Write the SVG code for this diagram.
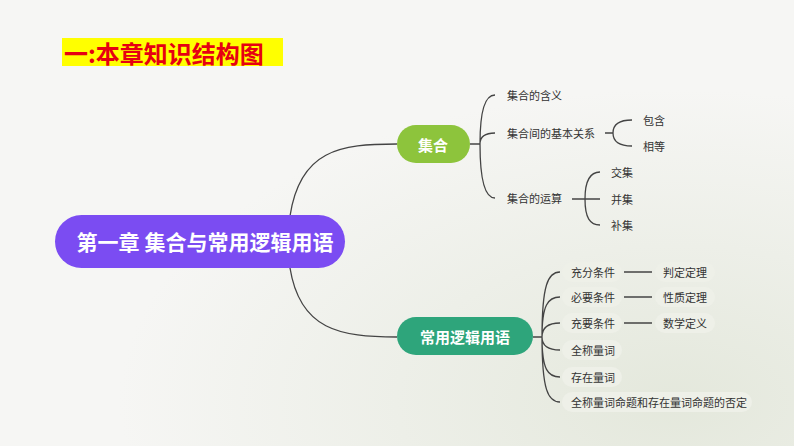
<svg xmlns="http://www.w3.org/2000/svg" width="794" height="446" viewBox="0 0 794 446">
<defs>
<radialGradient id="bg" cx="0.85" cy="0.9" r="0.7"><stop offset="0" stop-color="#e4e8dc"/><stop offset="1" stop-color="#f6f6f4"/></radialGradient>
<style>
text{font-family:"Noto Sans CJK SC","Noto Sans",sans-serif}
.t{font-size:11px;fill:#333;dominant-baseline:central}
.w{font-weight:bold;fill:#fff;dominant-baseline:central;text-anchor:middle}
.l{fill:none;stroke:#444;stroke-width:1.3}
.p{fill:#eef0e8}
</style>
</defs>
<rect width="794" height="446" fill="url(#bg)"/>
<rect x="62" y="38" width="221" height="28" fill="#ffff00"/>
<text x="64" y="52" font-size="24" font-weight="bold" fill="#e60012" dominant-baseline="central">一:本章知识结构图</text>
<g id="connectors">
<path class="l" d="M290 216 C300 150 340 144 397 144"/>
<path class="l" d="M290 268 C300 330 340 337 397 337"/>
<path class="l" d="M470 144 H480 M480 144 C480 110 485 95 495 95 M480 144 C480 136 485 133 495 133 M480 144 C480 180 485 198 495 198"/>
<path class="l" d="M605 133 H613 C613 125 618 120 632 120 M613 133 C613 141 618 146 632 146"/>
<path class="l" d="M572 199 H600 M585 199 C585 180 590 172 600 172 M585 199 C585 218 590 225 600 225"/>
<path class="l" d="M533 337 H542 M542 337 C542 285 548 272 560 272 M542 337 C542 305 548 297 560 297 M542 337 C542 328 548 323 560 323 M542 337 C542 346 548 350 560 350 M542 337 C542 370 548 377 560 377 M542 337 C542 390 548 402 560 402"/>
<path class="l" d="M624 272 H652 M624 297 H652 M624 323 H652"/>
</g>
<g id="main"><rect x="55" y="215" width="290" height="53" rx="26.5" fill="#7b4cf2"/><text class="w" x="205" y="241" font-size="21">第一章 集合与常用逻辑用语</text></g>
<g id="jihe"><rect x="397" y="125" width="73" height="38" rx="19" fill="#8dc43c"/><text class="w" x="433" y="144" font-size="15">集合</text></g>
<g id="luoji"><rect x="397" y="317" width="136" height="38" rx="19" fill="#2ea57b"/><text class="w" x="465" y="336" font-size="15">常用逻辑用语</text></g>
<g id="a1"><text class="t" x="507" y="95">集合的含义</text></g>
<g id="a2"><text class="t" x="507" y="133">集合间的基本关系</text></g>
<g id="a3"><text class="t" x="507" y="198">集合的运算</text></g>
<g id="b1"><text class="t" x="643" y="120">包含</text></g>
<g id="b2"><text class="t" x="643" y="146">相等</text></g>
<g id="c1"><text class="t" x="611" y="172">交集</text></g>
<g id="c2"><text class="t" x="611" y="199">并集</text></g>
<g id="c3"><text class="t" x="611" y="225">补集</text></g>
<g id="d1"><rect class="p" x="562" y="262" width="60" height="20" rx="10"/><text class="t" x="571" y="272">充分条件</text></g>
<g id="d2"><rect class="p" x="562" y="287" width="60" height="20" rx="10"/><text class="t" x="571" y="297">必要条件</text></g>
<g id="d3"><rect class="p" x="562" y="313" width="60" height="20" rx="10"/><text class="t" x="571" y="323">充要条件</text></g>
<g id="d4"><rect class="p" x="562" y="340" width="60" height="20" rx="10"/><text class="t" x="571" y="350">全称量词</text></g>
<g id="d5"><rect class="p" x="562" y="367" width="60" height="20" rx="10"/><text class="t" x="571" y="377">存在量词</text></g>
<g id="d6"><rect class="p" x="562" y="392" width="190" height="20" rx="10"/><text class="t" x="571" y="402">全称量词命题和存在量词命题的否定</text></g>
<g id="e1"><rect class="p" x="655" y="262" width="60" height="20" rx="10"/><text class="t" x="663" y="272">判定定理</text></g>
<g id="e2"><rect class="p" x="655" y="287" width="60" height="20" rx="10"/><text class="t" x="663" y="297">性质定理</text></g>
<g id="e3"><rect class="p" x="655" y="313" width="60" height="20" rx="10"/><text class="t" x="663" y="323">数学定义</text></g>
</svg>
